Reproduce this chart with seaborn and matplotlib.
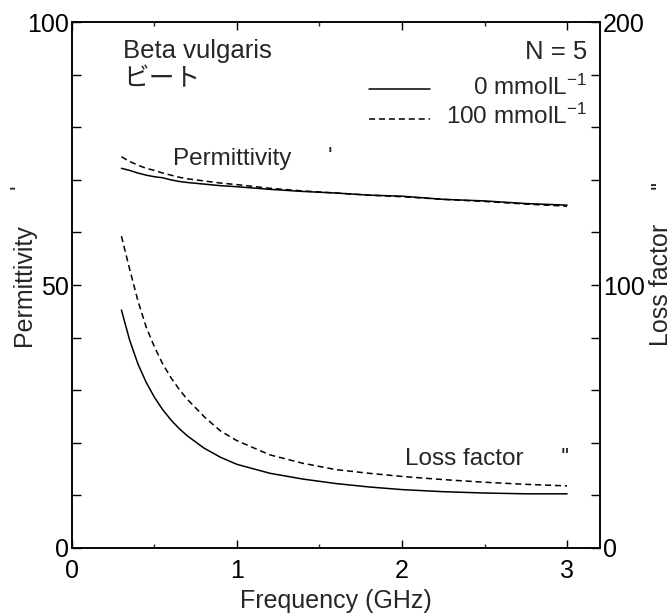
import pandas as pd
import matplotlib
matplotlib.use("Agg")
import matplotlib.pyplot as plt
from matplotlib.ticker import MultipleLocator, FixedLocator
import seaborn as sns

# Frequency grid (GHz)
freq = [0.3, 0.35, 0.4, 0.45, 0.5, 0.55, 0.6, 0.65, 0.7, 0.8, 0.9, 1.0,
        1.2, 1.4, 1.6, 1.8, 2.0, 2.25, 2.5, 2.75, 3.0]

# Permittivity (left axis)
perm_0 = [72.2, 71.8, 71.3, 70.9, 70.6, 70.4, 70.0, 69.7, 69.5, 69.2, 68.9, 68.7,
          68.2, 67.8, 67.5, 67.1, 66.9, 66.3, 66.0, 65.5, 65.2]
perm_100 = [74.4, 73.5, 72.8, 72.2, 71.8, 71.3, 70.9, 70.5, 70.2, 69.8, 69.4, 69.1,
            68.4, 67.9, 67.5, 67.1, 66.8, 66.3, 65.9, 65.4, 65.0]

# Loss factor (right axis)
loss_0 = [90.5, 79.0, 70.0, 63.0, 57.3, 52.6, 48.7, 45.4, 42.6, 38.0, 34.5, 31.8,
          28.4, 26.2, 24.5, 23.2, 22.2, 21.4, 20.9, 20.6, 20.6]
loss_100 = [118.6, 106.0, 94.0, 84.0, 76.5, 70.0, 64.8, 60.3, 56.5, 50.0, 44.5, 40.8,
            35.4, 32.2, 29.8, 28.4, 27.2, 26.0, 25.0, 24.2, 23.6]

conc_labels = ["0 mmolL$^{-1}$", "100 mmolL$^{-1}$"]

df = pd.DataFrame({"freq": freq, "perm_0": perm_0, "perm_100": perm_100,
                   "loss_0": loss_0, "loss_100": loss_100})

sns.set_theme(style="ticks")
plt.rcParams["font.family"] = ["Liberation Sans", "Noto Sans CJK JP"]
plt.rcParams["mathtext.default"] = "regular"
plt.rcParams["font.size"] = 18

solid = "-"
dashed = (0, (4, 2.5))
lw = 1.1

fig = plt.figure(figsize=(6.72, 6.15), dpi=100)
ax = fig.add_axes([0.107, 0.109, 0.786, 0.855])
ax2 = ax.twinx()

sns.lineplot(data=df, x="freq", y="perm_0", ax=ax, color="black", lw=lw, linestyle=solid)
sns.lineplot(data=df, x="freq", y="perm_100", ax=ax, color="black", lw=lw, linestyle=dashed)
sns.lineplot(data=df, x="freq", y="loss_0", ax=ax2, color="black", lw=lw, linestyle=solid)
sns.lineplot(data=df, x="freq", y="loss_100", ax=ax2, color="black", lw=lw, linestyle=dashed)

ax.set_xlim(0, 3.2)
ax.set_ylim(0, 100)
ax2.set_ylim(0, 200)

for a in (ax, ax2):
    for s in a.spines.values():
        s.set_linewidth(1.1)
        s.set_color("black")

ax.xaxis.set_major_locator(FixedLocator([0, 1, 2, 3]))
ax.xaxis.set_minor_locator(FixedLocator([0.5, 1.5, 2.5]))
ax.yaxis.set_major_locator(MultipleLocator(10))
ax.set_yticklabels(["0" if v == 0 else "50" if v == 50 else "100" if v == 100 else ""
                    for v in ax.get_yticks()])
ax.tick_params(axis="x", which="major", direction="in", length=6, width=1.0,
               top=True, labelsize=18, pad=8, colors="black")
ax.tick_params(axis="x", which="minor", direction="in", length=3, width=1.0,
               top=True, bottom=True)
ax.tick_params(axis="y", which="major", direction="in", length=6.5, width=1.0,
               labelsize=18, pad=2, colors="black")

ax2.yaxis.set_major_locator(MultipleLocator(20))
ax2.set_yticklabels(["0" if v == 0 else "100" if v == 100 else "200" if v == 200 else ""
                     for v in ax2.get_yticks()])
ax2.tick_params(axis="y", which="major", direction="in", length=6.5, width=1.0,
                labelsize=18, pad=2, colors="black")

ax.set_xlabel("Frequency (GHz)", fontsize=18, labelpad=4)
ax.set_ylabel("Permittivity", fontsize=18)
ax.yaxis.set_label_coords(-0.068, 0.5)
ax2.set_ylabel("Loss factor", fontsize=18, rotation=90)
ax2.yaxis.set_label_coords(1.092, 0.5)

# annotations
ax.text(0.31, 94.6, "Beta vulgaris", fontsize=18.5, va="center")
ax.text(0.31, 89.2, "ビート", fontsize=18.5, va="center",
        family=["Noto Sans CJK JP", "Liberation Sans"])
ax.text(3.12, 94.4, "N = 5", fontsize=18.5, ha="right", va="center")
ax.text(3.12, 87.7, conc_labels[0], fontsize=17.5, ha="right", va="center")
ax.text(3.12, 82.0, conc_labels[1], fontsize=17.5, ha="right", va="center")
ax.plot([1.8, 2.17], [87.2, 87.2], color="black", lw=lw, linestyle=solid)
ax.plot([1.8, 2.17], [81.6, 81.6], color="black", lw=lw, linestyle=dashed)
ax.text(0.61, 74.0, "Permittivity", fontsize=17.5, va="center")
ax.text(1.55, 74.2, "'", fontsize=17, va="center")
ax.text(2.02, 17.0, "Loss factor", fontsize=17.5, va="center")
ax.text(2.96, 17.0, "''", fontsize=17, va="center")
fig.text(0.03, 0.697, "'", fontsize=17, rotation=90, ha="center", va="center")
fig.text(0.985, 0.70, "''", fontsize=17, rotation=90, ha="center", va="center")

fig.savefig("out.png", dpi=100)
